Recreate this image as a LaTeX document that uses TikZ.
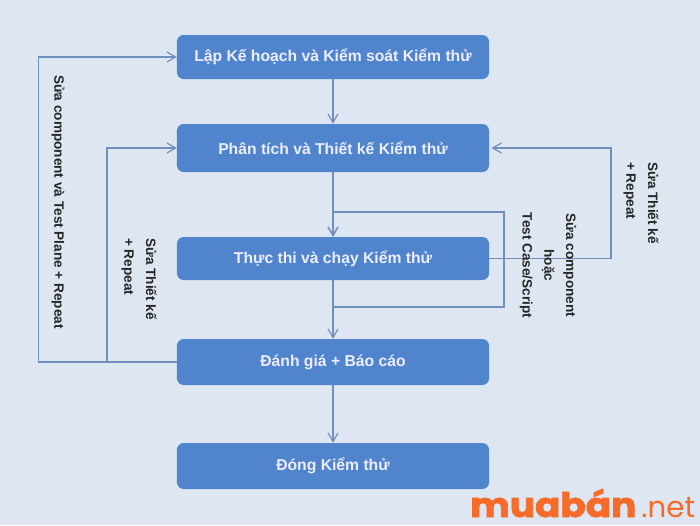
\documentclass[tikz,border=0pt]{standalone}
\usepackage{fontspec}
\setmainfont{Liberation Sans}
\newfontfamily\logofont{Poppins}
\usetikzlibrary{arrows.meta}
\definecolor{pagebg}{HTML}{DDE6F1}
\definecolor{boxblue}{HTML}{5085CE}
\definecolor{flowline}{HTML}{6F8FBC}
\definecolor{logoorange}{HTML}{F76B2A}
\tikzstyle{stage}=[shape=rectangle,rounded corners=2mm,fill=boxblue,text=white!93!blue,font=\bfseries\fontsize{13.4}{15}\selectfont,minimum width=9.36cm,inner sep=0pt]
\tikzstyle{flow}=[draw=flowline,line width=1pt]
\tikzstyle{flowto}=[flow,-{Straight Barb[length=2.6mm,width=3mm]}]
\tikzstyle{note}=[rotate=-90,font=\bfseries\fontsize{11.6}{18.5}\selectfont,text=black!85,inner sep=0pt]

\begin{document}
\begin{tikzpicture}[x=0.03cm,y=-0.03cm]
        \fill[pagebg] (0,0) rectangle (700,525);
        \useasboundingbox (0,0) rectangle (700,525);
        % stages
        \node[stage,minimum height=1.32cm] (plan) at (333,57) {Lập Kế hoạch và Kiểm soát Kiểm thử};
        \node[stage,minimum height=1.44cm] (design) at (333,148) {Phân tích và Thiết kế Kiểm thử};
        \node[stage,minimum height=1.29cm] (run) at (333,258.5) {Thực thi và chạy  Kiểm thử};
        \node[stage,minimum height=1.38cm] (report) at (333,362) {Đánh giá + Báo cáo};
        \node[stage,minimum height=1.38cm] (close) at (333,466) {Đóng Kiểm thử};
        % corners of the loops
        \coordinate (outerl) at (38.5,362);
        \coordinate (innerl) at (107,362);
        \coordinate (farr) at (611,258.5);
        \coordinate (testb) at (333,307);
        \coordinate (testr) at (504,307);
        \coordinate (testt) at (504,212);
        \coordinate (testl) at (333,212);
        % main line
        \draw[flowto] (plan) -- (design);
        \draw[flowto] (design) -- (run);
        \draw[flowto] (run) -- (report);
        \draw[flowto] (report) -- (close);
        % loops
        \draw[flowto] (report.west) -- (outerl) |- (plan.west);
        \draw[flowto] (innerl) |- (design.west);
        \draw[flowto] (run.east) -- (farr) |- ([xshift=2pt]design.east);
        \draw[flowto] (testb) -- (testr) -- (testt) -- (testl) -- (run.north);
        % notes
        \node[note] (n1) at (58,202) {Sửa component và Test Plane + Repeat};
        \node[note,align=left] (n2) at (139,279) {Sửa Thiết kế\\+ Repeat};
        \node[note,align=left] (n3) at (641,203) {Sửa Thiết kế\\+ Repeat};
        \node[note,align=center] (n4) at (548,265.5) {Sửa component\\hoặc\\Test Case/Script};
        % logo
        \node[inner sep=0pt,anchor=base west,text=logoorange,font=\logofont\bfseries\fontsize{29}{29}\selectfont] (logo) at (470,517) {\addfontfeature{FakeBold=2,FakeStretch=1.1}muabán};
        \node[inner sep=0pt,anchor=base west,text=logoorange,font=\logofont\fontsize{25}{25}\selectfont] (net) at ([xshift=4pt]logo.base east) {.net};
    \end{tikzpicture}
\end{document}
